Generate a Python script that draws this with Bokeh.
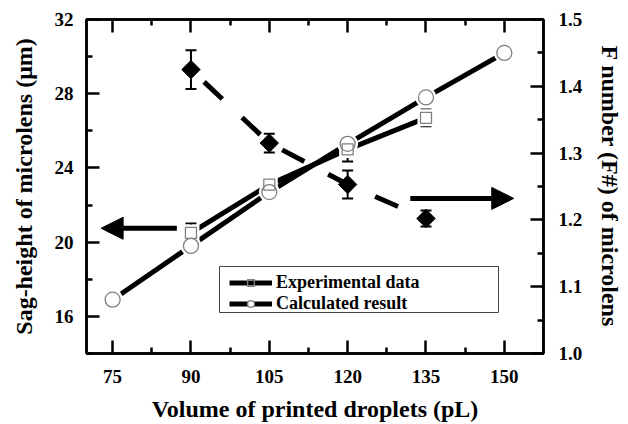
import numpy as np
from bokeh.plotting import figure
from bokeh.models import (Range1d, LinearAxis, FixedTicker, ColumnDataSource, Whisker,
                          TeeHead, Arrow, NormalHead, Legend, LegendItem, BoxAnnotation)
from bokeh.embed import file_html
from bokeh.resources import INLINE

# ---------------- data ----------------
volume_exp = [90, 105, 120, 135]
sag_exp = [20.5, 23.1, 25.0, 26.7]
sag_exp_err = [0.5, 0.3, 0.65, 0.45]

volume_calc = [75, 90, 105, 120, 135, 150]
sag_calc = [16.9, 19.8, 22.7, 25.3, 27.8, 30.2]

volume_f = [90, 105, 120, 135]
f_number = [1.425, 1.315, 1.253, 1.202]
f_err = [0.029, 0.014, 0.021, 0.012]

x_ticks = [75, 90, 105, 120, 135, 150]
x_minor = [82.5, 97.5, 112.5, 127.5, 142.5]
y_ticks = [16, 20, 24, 28, 32]
y_minor = [14, 18, 22, 26, 30]
f_ticks = [1.0, 1.1, 1.2, 1.3, 1.4, 1.5]
f_minor = [1.05, 1.15, 1.25, 1.35, 1.45]

# arrows (data coordinates, left axis)
arrow_left = dict(x_start=87.3, x_end=72.8, y=20.75)
arrow_right = dict(x_start=132.0, x_end=151.8, y=22.36)

X_RANGE = (70, 157.5)
Y_RANGE = (14, 32)
F_RANGE = (1.0, 1.5)

FONT = "Liberation Serif"
W, H = 628, 424
FL, FR, FT, FB = 86, 543, 19, 353   # frame edges in canvas px

p = figure(width=W, height=H, x_range=Range1d(*X_RANGE), y_range=Range1d(*Y_RANGE),
           output_backend="svg", toolbar_location=None,
           min_border_left=FL, min_border_right=W - FR, min_border_top=FT,
           min_border_bottom=H - FB)
p.extra_y_ranges = {"f": Range1d(*F_RANGE)}
p.grid.visible = False
p.outline_line_color = "black"
p.outline_line_width = 2.5
p.background_fill_color = "white"
p.border_fill_color = "white"


def style_axis(ax, ticks, minor, size="19px", standoff=13):
    ax.ticker = FixedTicker(ticks=ticks, minor_ticks=minor)
    ax.axis_line_width = 2.5
    ax.axis_line_color = "black"
    ax.major_tick_in = 13
    ax.major_tick_out = 0
    ax.minor_tick_in = 6
    ax.minor_tick_out = 0
    ax.major_tick_line_width = 2.5
    ax.minor_tick_line_width = 2.5
    ax.major_label_text_font = FONT
    ax.major_label_text_font_style = "bold"
    ax.major_label_text_font_size = size
    ax.major_label_text_color = "black"
    ax.major_label_standoff = standoff
    ax.axis_label_text_font = FONT
    ax.axis_label_text_font_style = "bold"
    ax.axis_label_text_font_size = "24px"
    ax.axis_label_text_color = "black"


xb = p.xaxis[0]
style_axis(xb, x_ticks, x_minor, standoff=16)
xb.axis_label = "Volume of printed droplets (pL)"
xb.axis_label_standoff = 10
xb.major_label_overrides = {t: str(t) for t in x_ticks}

yl = p.yaxis[0]
style_axis(yl, y_ticks, y_minor, standoff=13)
yl.axis_label = "Sag-height of microlens (\u03bcm)"
yl.axis_label_standoff = 15
yl.major_label_overrides = {t: str(t) for t in y_ticks}

xt = LinearAxis()
style_axis(xt, x_ticks, x_minor, size="0px", standoff=0)
xt.major_label_text_alpha = 0
p.add_layout(xt, "above")

yr = LinearAxis(y_range_name="f")
style_axis(yr, f_ticks, f_minor, standoff=15)
yr.major_label_overrides = {t: f"{t:.1f}" for t in f_ticks}
yr.axis_label = "F number (F#) of microlens"
yr.axis_label_standoff = 12
p.add_layout(yr, "right")

# ---------------- sources ----------------
src_exp = ColumnDataSource(dict(x=volume_exp, y=sag_exp,
                                lo=[a - b for a, b in zip(sag_exp, sag_exp_err)],
                                hi=[a + b for a, b in zip(sag_exp, sag_exp_err)]))
src_calc = ColumnDataSource(dict(x=volume_calc, y=sag_calc))
src_f = ColumnDataSource(dict(x=volume_f, y=f_number,
                              lo=[a - b for a, b in zip(f_number, f_err)],
                              hi=[a + b for a, b in zip(f_number, f_err)]))

# lines
l_calc = p.line("x", "y", source=src_calc, line_color="black", line_width=5)
l_exp = p.line("x", "y", source=src_exp, line_color="black", line_width=5)
l_f = p.line("x", "y", source=src_f, y_range_name="f", line_color="black", line_width=5,
             line_dash="25 27", line_dash_offset=34)

# white gaps around markers
p.scatter("x", "y", source=src_calc, marker="circle", size=21, fill_color="white", line_color=None)
p.scatter("x", "y", source=src_exp, marker="square", size=17, fill_color="white", line_color=None)

# error bars
p.add_layout(Whisker(source=src_exp, base="x", lower="lo", upper="hi", line_width=2,
                     upper_head=TeeHead(size=11, line_width=2),
                     lower_head=TeeHead(size=11, line_width=2)))
p.add_layout(Whisker(source=src_f, base="x", lower="lo", upper="hi", line_width=2,
                     y_range_name="f",
                     upper_head=TeeHead(size=11, line_width=2),
                     lower_head=TeeHead(size=11, line_width=2)))

# markers
m_calc = p.scatter("x", "y", source=src_calc, marker="circle", size=15, fill_color="white",
                   line_color="#808080", line_width=1.3)
m_exp = p.scatter("x", "y", source=src_exp, marker="square", size=11, fill_color="white",
                  fill_alpha=0.0, line_color="#808080", line_width=1.3)
m_f = p.scatter("x", "y", source=src_f, y_range_name="f", marker="square", angle=np.pi / 4,
                size=13, fill_color="black", line_color="black")

# arrows
p.add_layout(Arrow(x_start=arrow_left["x_start"], y_start=arrow_left["y"],
                   x_end=arrow_left["x_end"], y_end=arrow_left["y"], line_width=5,
                   end=NormalHead(size=22, fill_color="black", line_color="black", line_width=1)))
p.add_layout(Arrow(x_start=arrow_right["x_start"], y_start=arrow_right["y"],
                   x_end=arrow_right["x_end"], y_end=arrow_right["y"], line_width=5,
                   end=NormalHead(size=22, fill_color="black", line_color="black", line_width=1)))


# legend: border box + transparent legend
def dx(px):
    return X_RANGE[0] + (px - FL) * (X_RANGE[1] - X_RANGE[0]) / (FR - FL)


def dy(py):
    return Y_RANGE[1] - (py - FT) * (Y_RANGE[1] - Y_RANGE[0]) / (FB - FT)


p.add_layout(BoxAnnotation(left=dx(219), right=dx(498), top=dy(266), bottom=dy(312),
                           fill_color="white", fill_alpha=1.0,
                           line_color="#444444", line_width=1, line_alpha=1.0))

legend = Legend(items=[LegendItem(label="Experimental data", renderers=[l_exp, m_exp]),
                       LegendItem(label="Calculated result", renderers=[l_calc, m_calc])],
                location=(143, 39), orientation="vertical",
                label_text_font=FONT, label_text_font_style="bold",
                label_text_font_size="18px", label_text_color="black",
                glyph_width=43, glyph_height=17, label_height=17, label_width=20,
                label_standoff=4, spacing=0, padding=6, margin=0,
                border_line_color=None, background_fill_alpha=0.0)
p.add_layout(legend, "center")

open("out.html", "w").write(file_html(p, INLINE))
